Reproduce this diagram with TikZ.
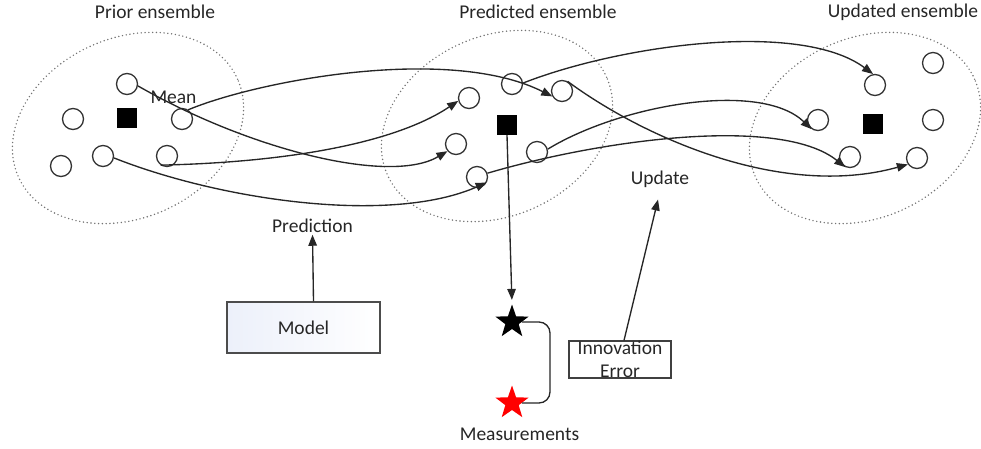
\documentclass[tikz,border=0pt]{standalone}
\usepackage{fontspec}
\setmainfont{Carlito}
\usetikzlibrary{shapes.geometric,arrows.meta,calc}
\begin{document}
\begin{tikzpicture}[x=1pt,y=-1pt,
  txt/.style={font=\fontsize{19.5}{23}\selectfont, text=black!85, inner sep=2pt},
  ens/.style={draw=black!55, line width=1.6pt, dash pattern=on 0pt off 3.8pt, line cap=round},
  memb/.style={circle, draw=black!80, line width=1.3pt, minimum size=21pt, inner sep=0pt},
  meansq/.style={rectangle, fill=black, minimum size=20pt, inner sep=0pt},
  link/.style={draw=black!85, line width=1.35pt},
  arr/.style={link, -{Triangle[length=11pt,width=8.5pt]}},
  starnode/.style={star, star points=5, star point ratio=2.5, minimum size=35pt, inner sep=0pt},
]
\useasboundingbox (0,0) rectangle (981,448);

% ensembles
\draw[ens, rotate around={24:(128,128)}] (128,128) ellipse [x radius=120pt, y radius=90pt];
\draw[ens, rotate around={24:(497,126)}] (497,126) ellipse [x radius=120pt, y radius=90pt];
\draw[ens, rotate around={24:(865,128)}] (865,128) ellipse [x radius=120pt, y radius=90pt];

\node[txt] (lprior) at (155,12) {Prior ensemble};
\node[txt] (lpred) at (538,12) {Predicted ensemble};
\node[txt] (lupd) at (903,12) {Updated ensemble};

% prior members
\node[memb] (c1) at (127,84) {};
\node[memb] (c2) at (73,119) {};
\node[meansq] (ms) at (127,118) {};
\node[memb] (c3) at (182,119) {};
\node[memb] (c4) at (61,166) {};
\node[memb] (c5) at (103,156) {};
\node[memb] (c6) at (167,156) {};
\node[txt] (mean) at (173.5,97) {Mean};

% predicted members
\node[memb] (p1) at (469,98) {};
\node[memb] (p2) at (512,84) {};
\node[memb] (p3) at (562,91) {};
\node[meansq] (ps) at (507,125) {};
\node[memb] (p4) at (456,144) {};
\node[memb] (p5) at (537,152) {};
\node[memb] (p6) at (477,177) {};

% updated members
\node[memb] (u1) at (875,85) {};
\node[memb] (u2) at (933,63) {};
\node[memb] (u3) at (818,120) {};
\node[meansq] (us) at (873,124) {};
\node[memb] (u4) at (933,120) {};
\node[memb] (u5) at (850,157) {};
\node[memb] (u6) at (917,158) {};

% prior -> predicted
\draw[arr] (c3.56) .. controls (260,80) and (450,45) .. (p3.209);
\draw[arr] (c6.235) .. controls (300,162) and (400,140) .. (p1.195);
\draw[arr] (c1.-10) .. controls (250,150) and (390,185) .. (p4.220);
\draw[arr] (c5.-10) .. controls (220,200) and (390,225) .. (p6.-30);

% predicted -> updated
\draw[arr] (p2.5) .. controls (620,45) and (800,20) .. (u1.100);
\draw[arr] (p3.60) .. controls (640,135) and (780,200) .. (u6.215);
\draw[arr] (p5.15) .. controls (620,105) and (760,80) .. (u3.235);
\draw[arr] (p6.20) .. controls (600,140) and (780,115) .. (u5.245);

% lower part
\node[txt] (pred) at (312.5,225.7) {Prediction};
\node[draw=black!70, line width=1.2pt, minimum width=153pt, minimum height=51pt, inner sep=0pt,
      left color={rgb,255:red,236;green,240;blue,250}, right color=white,
      font=\fontsize{19.5}{23}\selectfont, text=black!85] (md) at (303.5,327.5) {Model};
\draw[arr] ([xshift=10pt]md.north) -- (pred.south);

\node[starnode, fill=black] (bs) at (512,322) {};
\node[starnode, fill=red] (rs) at (512,403) {};
\node[txt] (meas) at (519.5,434.7) {Measurements};
\draw[arr, shorten >=4pt] (ps.south) -- (bs.north);
\coordinate (brk) at (550,360);
\draw[link, rounded corners=11pt] (bs.east) -| (brk) |- (rs.east);

\node[draw=black!75, line width=1.2pt, minimum width=102pt, minimum height=37pt, inner sep=0pt,
      align=center, font=\fontsize{19.5}{23}\selectfont, text=black!85] (ie) at (620,359.5) {Innovation\\Error};
\node[txt] (up) at (660,179) {Update};
\draw[arr] ([xshift=4pt]ie.north) -- ([xshift=-2pt,yshift=-10pt]up.south);
\end{tikzpicture}
\end{document}
